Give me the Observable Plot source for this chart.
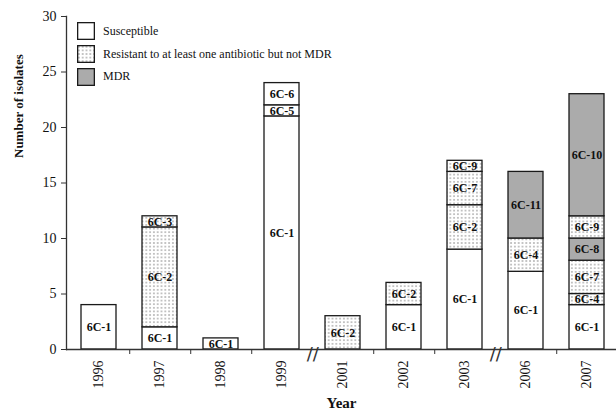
<!DOCTYPE html>
<html>
<head>
<meta charset="utf-8">
<script src="https://cdn.jsdelivr.net/npm/d3@7"></script>
<script src="https://cdn.jsdelivr.net/npm/@observablehq/plot@0.6"></script>
<style>
  html, body { margin: 0; padding: 0; background: #fff; }
  #wrap { position: relative; width: 616px; height: 415px; font-family: "Liberation Serif", "Times New Roman", serif; }
  #legend { position: absolute; left: 77px; top: 20px; font-size: 12px; color: #111; }
  .item { display: flex; align-items: center; height: 22.7px; }
  .item svg { margin-right: 8px; }
</style>
</head>
<body>
<div id="wrap"><div id="legend"></div></div>
<script>
// ---- data ----
const years = ["1996","1997","1998","1999","2001","2002","2003","2006","2007"];
const types = ["Susceptible", "Resistant to at least one antibiotic but not MDR", "MDR"];
const segYear  = ["1996","1997","1997","1997","1998","1999","1999","1999","2001","2002","2002","2003","2003","2003","2003","2006","2006","2006","2007","2007","2007","2007","2007","2007"];
const segClone = ["6C-1","6C-1","6C-2","6C-3","6C-1","6C-1","6C-5","6C-6","6C-2","6C-1","6C-2","6C-1","6C-2","6C-7","6C-9","6C-1","6C-4","6C-11","6C-1","6C-4","6C-7","6C-8","6C-9","6C-10"];
const segType  = [0,0,1,1,0,0,0,0,1,0,1,0,1,1,1,0,1,2,0,1,1,2,1,2];
const segCount = [4,2,9,1,1,21,1,2,3,4,2,9,4,3,1,7,3,6,4,1,3,2,2,11];
const yTicks = [0,5,10,15,20,25,30];
const breakAfter = ["1999","2003"];

const segments = segYear.map((y, i) => ({year: y, clone: segClone[i], type: types[segType[i]], count: segCount[i]}));
const fills = ["#ffffff", "url(#dots)", "#ababab"];

const x0 = 66, x1 = 619;
const step = (x1 - x0) / years.length;
const boundaryTicks = years.filter((y, i) => i < years.length - 1 && !breakAfter.includes(y));

const chart = Plot.plot({
  width: 616,
  height: 415,
  marginLeft: 66,
  marginRight: 0,
  marginTop: 16,
  marginBottom: 66,
  style: {fontFamily: "Liberation Serif, Times New Roman, serif", background: "#fff", color: "#111"},
  x: {domain: years, range: [x0, x1], paddingInner: 0.43, paddingOuter: 0.215, label: null},
  y: {domain: [0, 30], label: null},
  color: {domain: types, range: fills},
  marks: [
    Plot.barY(segments, {x: "year", y: "count", fill: "type", stroke: "#1a1a1a", strokeWidth: 1.3}),
    Plot.text(segments, Plot.stackY({x: "year", y: "count", text: "clone", fontWeight: "bold", fontSize: 12, fill: "#111"})),
    Plot.frame({anchor: "left", stroke: "#333", strokeWidth: 1.3}),
    Plot.ruleY([0], {stroke: "#333", strokeWidth: 1.3}),
    Plot.axisY({ticks: yTicks, tickSize: 5, tickPadding: 5, fontSize: 14, label: null, stroke: "#333"}),
    Plot.axisX({tickSize: 0, tickRotate: -90, tickPadding: 11, fontSize: 14, label: null}),
    Plot.axisX(boundaryTicks, {tickSize: 5, dx: step / 2, tickFormat: () => "", label: null, stroke: "#333"}),
    Plot.text(breakAfter, {x: d => d, y: 0, dx: step / 2, dy: 5, text: () => "//", fontSize: 18, fontFamily: "DejaVu Sans", fill: "#333"}),
    Plot.text(["Number of isolates"], {frameAnchor: "left", dx: -48, dy: -25, rotate: -90, fontWeight: "bold", fontSize: 13, fill: "#111"}),
    Plot.text(["Year"], {frameAnchor: "bottom", dy: 58, fontWeight: "bold", fontSize: 15, fill: "#111"})
  ]
});

// dotted pattern for the resistant category
const ns = "http://www.w3.org/2000/svg";
function dotsPattern(id) {
  const defs = document.createElementNS(ns, "defs");
  defs.innerHTML = `<pattern id="${id}" width="3.8" height="3.6" patternUnits="userSpaceOnUse">
    <rect width="3.8" height="3.6" fill="#fff"/>
    <circle cx="1.9" cy="1.8" r="0.65" fill="#555"/>
  </pattern>`;
  return defs;
}
chart.insertBefore(dotsPattern("dots"), chart.firstChild);
const wrap = document.getElementById("wrap");
wrap.insertBefore(chart, wrap.firstChild);

// legend inside the plot area
const legend = document.getElementById("legend");
types.forEach((t, i) => {
  const item = document.createElement("div");
  item.className = "item";
  const fill = i === 1 ? "url(#dotsL)" : fills[i];
  item.innerHTML = `<svg width="18" height="18">${i === 1 ? dotsPattern("dotsL").outerHTML : ""}<rect x="0.65" y="0.65" width="16.7" height="16.7" fill="${fill}" stroke="#1a1a1a" stroke-width="1.3"/></svg><span>${t}</span>`;
  legend.appendChild(item);
});
</script>
</body>
</html>
